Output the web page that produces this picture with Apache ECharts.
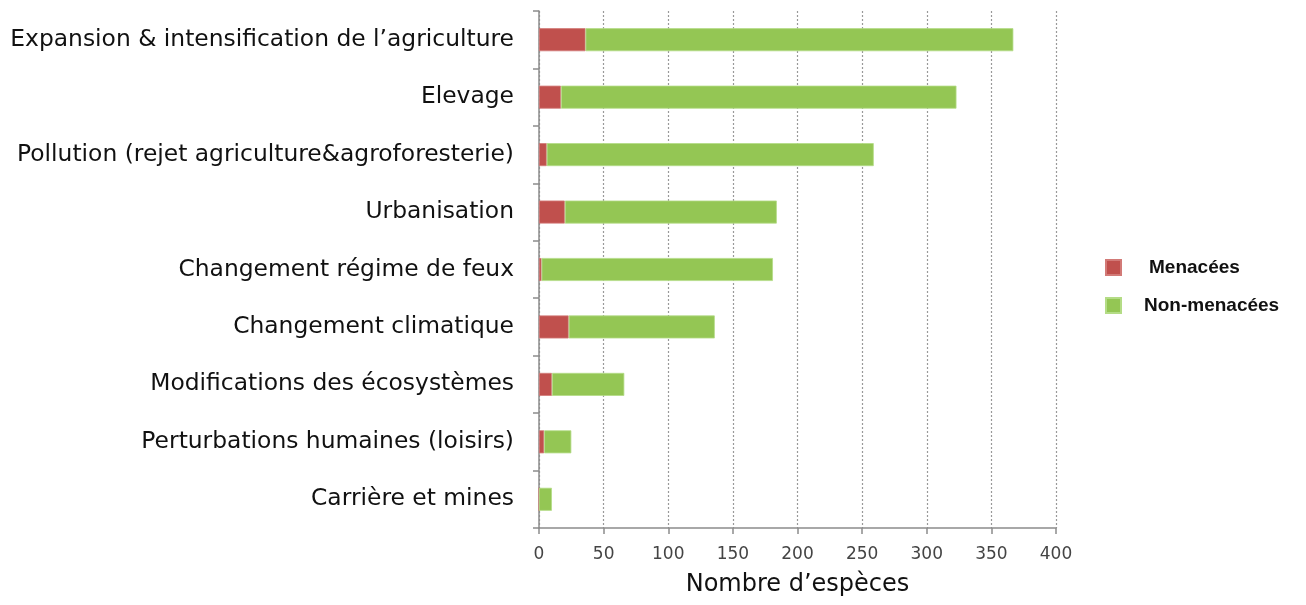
<!DOCTYPE html>
<html>
<head>
<meta charset="utf-8">
<script src="https://cdn.jsdelivr.net/npm/echarts@6/dist/echarts.min.js"></script>
<style>
  html, body { margin: 0; padding: 0; background: #fff; }
  #chart { width: 1306px; height: 605px; }
</style>
</head>
<body>
<div id="chart"></div>
<script>
// Threat categories, listed top to bottom
const categories = [
  "Expansion & intensification de l\u2019agriculture",
  "Elevage",
  "Pollution (rejet agriculture&agroforesterie)",
  "Urbanisation",
  "Changement r\u00e9gime de feux",
  "Changement climatique",
  "Modifications des \u00e9cosyst\u00e8mes",
  "Perturbations humaines (loisirs)",
  "Carri\u00e8re et mines"
];
// Number of species per category
const menacees = [36, 17, 6, 20, 2, 23, 10, 4, 0];
const nonMenacees = [331, 306, 253, 164, 179, 113, 56, 21, 10];
const xTicks = { min: 0, max: 400, interval: 50 };

const chart = echarts.init(document.getElementById('chart'));
chart.setOption({
  animation: false,
  backgroundColor: '#ffffff',
  grid: { left: 539, right: 250, top: 11, bottom: 77, containLabel: false },
  legend: {
    orient: 'vertical',
    left: 1105,
    top: 258,
    padding: 0,
    itemWidth: 15,
    itemHeight: 15,
    itemGap: 19,
    icon: 'rect',
    textStyle: { fontFamily: 'Liberation Sans', fontWeight: 'bold', fontSize: 19, lineHeight: 15, color: '#111' },
    data: [
      { name: 'Menac\u00e9es', textStyle: { padding: [0, 0, 0, 23] } },
      { name: 'Non-menac\u00e9es', textStyle: { padding: [0, 0, 0, 18] } }
    ]
  },
  xAxis: {
    type: 'value',
    min: xTicks.min,
    max: xTicks.max,
    interval: xTicks.interval,
    name: 'Nombre d\u2019esp\u00e8ces',
    nameLocation: 'middle',
    nameGap: 45,
    nameTextStyle: { fontFamily: 'DejaVu Sans', fontSize: 24, color: '#111' },
    axisLine: { show: true, lineStyle: { color: '#8c8c8c', width: 1.5 } },
    axisTick: { show: true, length: 6, lineStyle: { color: '#8c8c8c', width: 1.5 } },
    axisLabel: { fontFamily: 'DejaVu Sans', fontSize: 17, color: '#444', margin: 18 },
    splitLine: { show: true, lineStyle: { color: '#999', type: [2, 2], width: 1.2 } }
  },
  yAxis: {
    type: 'category',
    data: categories,
    inverse: true,
    axisLine: { show: true, lineStyle: { color: '#8c8c8c', width: 1.5 } },
    axisTick: { show: true, length: 6, lineStyle: { color: '#8c8c8c', width: 1.5 } },
    axisLabel: { fontFamily: 'DejaVu Sans', fontSize: 23.4, color: '#111', margin: 25 },
    splitLine: { show: false }
  },
  series: [
    {
      name: 'Menac\u00e9es',
      type: 'bar',
      stack: 'total',
      data: menacees,
      barWidth: 23,
      itemStyle: { color: '#C0504D', borderColor: '#d27a77', borderWidth: 0.8 }
    },
    {
      name: 'Non-menac\u00e9es',
      type: 'bar',
      stack: 'total',
      data: nonMenacees,
      barWidth: 23,
      itemStyle: { color: '#94C654', borderColor: '#b4dc86', borderWidth: 0.8 }
    }
  ]
});
</script>
</body>
</html>
